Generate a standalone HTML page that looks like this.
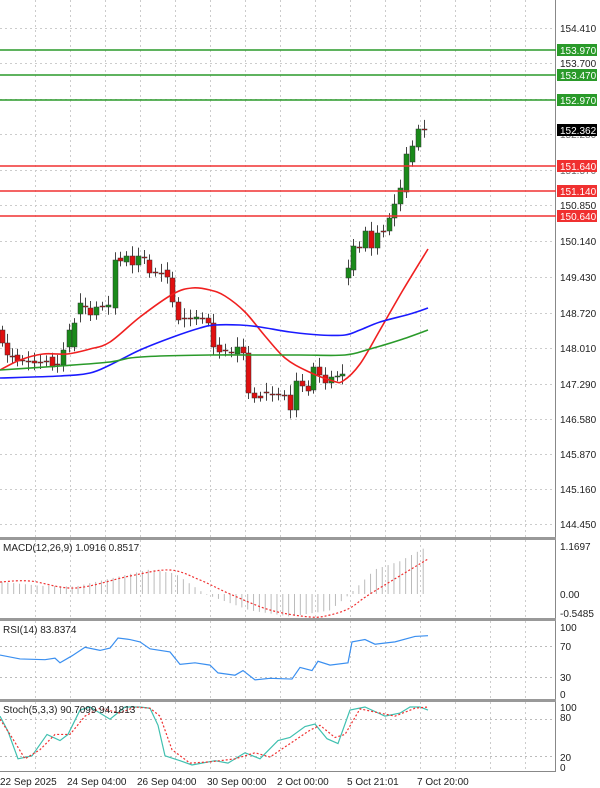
<!DOCTYPE html>
<html><head><meta charset="utf-8"><style>
body{margin:0;background:#fff;}
svg{display:block;font-family:"Liberation Sans",sans-serif;}
</style></head><body>
<svg id="c" width="600" height="788" viewBox="0 0 600 788" xmlns="http://www.w3.org/2000/svg">
<rect width="600" height="788" fill="#fff"/>
<g id="grid"></g>
<g id="draw"></g>
<line x1="555.5" y1="0" x2="555.5" y2="772" stroke="#888" stroke-width="1"/>
<rect x="0" y="537" width="556" height="3" fill="#999"/>
<rect x="0" y="618" width="556" height="3" fill="#999"/>
<rect x="0" y="699" width="556" height="3" fill="#999"/>
<line x1="0" y1="771.5" x2="556" y2="771.5" stroke="#888"/>
<g stroke-width="1.6">
<line x1="0" y1="50" x2="556" y2="50" stroke="#2a9a2a"/>
<line x1="0" y1="75" x2="556" y2="75" stroke="#2a9a2a"/>
<line x1="0" y1="100" x2="556" y2="100" stroke="#2a9a2a"/>
<line x1="0" y1="166" x2="556" y2="166" stroke="#f03030"/>
<line x1="0" y1="191" x2="556" y2="191" stroke="#f03030"/>
<line x1="0" y1="216" x2="556" y2="216" stroke="#f03030"/>
</g>
<g font-size="10" fill="#222">
<text x="560" y="32">154.410</text>
<text x="560" y="67">153.700</text>
<text x="560" y="138" fill="#666">152.280</text>
<text x="560" y="174" fill="#666">151.570</text>
<text x="560" y="209">150.850</text>
<text x="560" y="245">150.140</text>
<text x="560" y="281">149.430</text>
<text x="560" y="317">148.720</text>
<text x="560" y="352">148.010</text>
<text x="560" y="388">147.290</text>
<text x="560" y="423">146.580</text>
<text x="560" y="458">145.870</text>
<text x="560" y="493">145.160</text>
<text x="560" y="528">144.450</text>
</g>
<g font-size="10" fill="#fff">
<rect x="557" y="44" width="40" height="12" fill="#2a9a2a"/><text x="560" y="54">153.970</text>
<rect x="557" y="69" width="40" height="12" fill="#2a9a2a"/><text x="560" y="79">153.470</text>
<rect x="557" y="94" width="40" height="12" fill="#2a9a2a"/><text x="560" y="104">152.970</text>
<rect x="557" y="124" width="40" height="12" fill="#000"/><text x="560" y="134">152.362</text>
<rect x="557" y="160" width="40" height="12" fill="#f03030"/><text x="560" y="170">151.640</text>
<rect x="557" y="185" width="40" height="12" fill="#f03030"/><text x="560" y="195">151.140</text>
<rect x="557" y="210" width="40" height="12" fill="#f03030"/><text x="560" y="220">150.640</text>
</g>
<g font-size="10" fill="#222">
<text x="3" y="551">MACD(12,26,9) 1.0916 0.8517</text>
<text x="560" y="550">1.1697</text>
<text x="560" y="598">0.00</text>
<text x="560" y="617">-0.5485</text>
<text x="3" y="633">RSI(14) 83.8374</text>
<text x="560" y="631">100</text>
<text x="560" y="650">70</text>
<text x="560" y="681">30</text>
<text x="560" y="698">0</text>
<text x="3" y="713">Stoch(5,3,3) 90.7099 94.1813</text>
<text x="560" y="711">100</text>
<text x="560" y="721">80</text>
<text x="560" y="761">20</text>
<text x="560" y="771">0</text>
<text x="0" y="785">22 Sep 2025</text>
<text x="67" y="785">24 Sep 04:00</text>
<text x="137" y="785">26 Sep 04:00</text>
<text x="207" y="785">30 Sep 00:00</text>
<text x="277" y="785">2 Oct 00:00</text>
<text x="347" y="785">5 Oct 21:01</text>
<text x="417" y="785">7 Oct 20:00</text>
</g>
</svg>
<script>
const NS="http://www.w3.org/2000/svg";
const G=document.getElementById('grid'),D=document.getElementById('draw');
function el(t,a,p){const e=document.createElementNS(NS,t);for(const k in a)e.setAttribute(k,a[k]);(p||D).appendChild(e);return e;}
for(let k=1;k<=15;k++){const x=35*k+0.5;if(x>555)break;
 [[0,537],[540,618],[621,699],[702,771]].forEach(r=>el('line',{x1:x,y1:r[0],x2:x,y2:r[1],stroke:'#ccc','stroke-dasharray':'2,3'},G));}
[28,63,99,134,170,205,241,277,313,348,384,419,454,489,524].forEach(y=>el('line',{x1:0,y1:y+.5,x2:555,y2:y+.5,stroke:'#ccc','stroke-dasharray':'2,3'},G));
[646,677,719,756].forEach(y=>el('line',{x1:0,y1:y+.5,x2:555,y2:y+.5,stroke:'#bbb','stroke-dasharray':'2,3'},G));
const C=[[2,330,343],[7,343,355],[12,356,357],[17,355,361],[22,360,361],[28,361,362],[34,361,363],[40,362,363],[46,361,362],[52,357,367],[57,364,365],[63,365,350],[69,347,330],[74,347,323],[80,314,303],[85,306,307],[90,308,315],[96,315,307],[102,306,307],[108,307,305],[115,308,260],[120,258,261],[126,262,256],[132,256,265],[138,265,256],[144,257,258],[149,260,273],[155,272,273],[161,273,274],[167,270,277],[172,278,302],[178,302,320],[184,318,319],[190,318,319],[196,319,317],[202,318,319],[208,318,323],[213,323,347],[219,345,352],[225,350,351],[231,352,353],[237,354,347],[243,347,353],[248,353,393],[254,393,398],[260,396,398],[266,392,393],[272,394,395],[278,394,395],[284,395,396],[290,395,410],[296,410,381],[302,381,386],[308,386,391],[313,390,367],[319,367,375],[325,375,383],[331,383,377],[337,377,376],[342,376,374],[348,278,268],[353,270,246],[359,247,248],[365,248,231],[371,231,248],[377,248,233],[383,231,232],[389,231,218],[394,218,204],[400,204,188],[406,192,154],[412,162,146],[418,147,129],[424,129,130]];
C.forEach((c,i)=>{const[x,o,cl]=c;const top=Math.min(o,cl),bot=Math.max(o,cl);
 const h=6+((i*7)%9);el('line',{x1:x+.5,y1:top-h*.7,x2:x+.5,y2:bot+h*.6,stroke:'#444'});
 const col=cl<o?'#1a8a1a':(cl>o?'#e01010':'#444');
 el('rect',{x:x-2,y:top,width:5,height:Math.max(1,bot-top),fill:col,stroke:'#333','stroke-width':.5});});
function path(pts,attrs){el('polyline',Object.assign({points:pts.map(p=>p.join(',')).join(' '),fill:'none'},attrs));}
function smooth(pts,attrs){let d='M'+pts[0].join(',');
 for(let i=0;i<pts.length-1;i++){const p0=pts[Math.max(0,i-1)],p1=pts[i],p2=pts[i+1],p3=pts[Math.min(pts.length-1,i+2)];
  const c1=[p1[0]+(p2[0]-p0[0])/6,p1[1]+(p2[1]-p0[1])/6],c2=[p2[0]-(p3[0]-p1[0])/6,p2[1]-(p3[1]-p1[1])/6];
  d+=' C'+c1.join(',')+' '+c2.join(',')+' '+p2.join(',');}
 el('path',Object.assign({d:d,fill:'none'},attrs));}
smooth([[0,370],[20,360],[43,354],[67,354],[90,349],[110,342],[140,317],[173,294],[192,288],[210,290],[225,296],[245,312],[265,336],[285,358],[307,371],[333,381],[343,381],[360,364],[380,330],[403,290],[428,249]],{stroke:'#f02020','stroke-width':1.6});
smooth([[0,378],[60,376],[90,373],[110,365],[140,350],[173,337],[200,328],[215,325],[240,325],[260,327],[290,332],[320,335],[345,335],[360,330],[380,322],[410,314],[428,308]],{stroke:'#1a1aff','stroke-width':1.6});
smooth([[0,370],[60,366],[110,362],[130,358],[160,356],[210,355],[250,355],[300,355],[345,355],[370,349],[400,340],[428,330]],{stroke:'#2a9a2a','stroke-width':1.6});
function interp(pts,x){for(let i=1;i<pts.length;i++){if(x<=pts[i][0]){const a=pts[i-1],b=pts[i];return a[1]+(b[1]-a[1])*(x-a[0])/(b[0]-a[0]);}}return pts[pts.length-1][1];}
const H=[[0,0.3],[40,0.2],[75,0.18],[150,0.6],[175,0.5],[205,0],[250,-0.4],[290,-0.55],[330,-0.4],[350,0],[375,0.6],[400,0.8],[428,1.17]];
for(let x=2;x<=428;x+=5.85){const v=interp(H,x);const y=594-v*41;el('line',{x1:x,y1:594,x2:x,y2:y,stroke:'#bbb','stroke-width':1});}
smooth([[0,582],[30,581],[75,588],[130,576],[170,570],[200,580],[230,594],[270,610],[310,617],[330,615],[350,608],[370,594],[428,559]],{stroke:'#f03030','stroke-width':1.2,'stroke-dasharray':'2,2'});
const R=[[0,58],[20,53],[45,52],[55,54],[60,48],[72,57],[85,68],[100,64],[110,67],[118,80],[130,78],[140,75],[150,66],[170,62],[180,46],[195,48],[210,45],[218,35],[235,32],[243,38],[255,26],[270,28],[292,27],[300,42],[312,38],[318,50],[330,45],[348,48],[352,75],[365,78],[375,72],[395,75],[415,82],[428,83]];
path(R.map(p=>[p[0],700-0.775*p[1]]),{stroke:'#3a8ff0','stroke-width':1.2});
const S=[[0,85],[8,60],[18,15],[32,20],[47,55],[60,45],[68,55],[80,95],[90,100],[110,80],[125,100],[140,100],[150,98],[158,70],[165,20],[180,12],[192,5],[215,12],[228,8],[245,25],[260,15],[278,45],[290,50],[305,68],[315,72],[327,48],[338,40],[350,95],[365,100],[385,85],[400,90],[410,100],[420,100],[428,95]];
const Sg=[[0,80],[12,50],[25,15],[40,30],[55,55],[70,55],[85,85],[100,98],[120,90],[135,100],[150,98],[160,85],[172,30],[190,8],[210,10],[235,15],[255,25],[270,18],[290,40],[310,62],[320,70],[335,50],[345,55],[360,97],[380,90],[395,85],[415,98],[428,100]];
path(S.map(p=>[p[0],768-0.61*p[1]]),{stroke:'#40c0b0','stroke-width':1.2});
path(Sg.map(p=>[p[0],768-0.61*p[1]]),{stroke:'#f03030','stroke-width':1.2,'stroke-dasharray':'2,2'});
</script>
</body></html>
